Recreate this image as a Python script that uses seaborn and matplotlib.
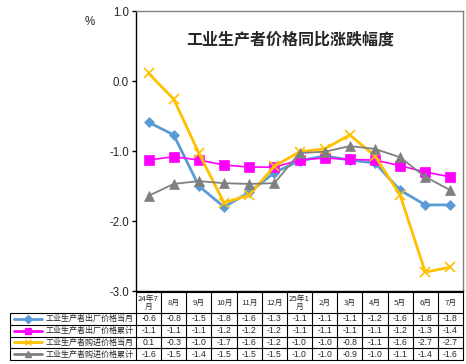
import matplotlib
matplotlib.use("Agg")
import matplotlib.pyplot as plt
import seaborn as sns
import pandas as pd
import numpy as np
from matplotlib.lines import Line2D

# ---------------- data ----------------
months = ["24年7\n月", "8月", "9月", "10月", "11月", "12月", "25年1\n月",
          "2月", "3月", "4月", "5月", "6月", "7月"]
series_names = ["工业生产者出厂价格当月", "工业生产者出厂价格累计",
                "工业生产者购进价格当月", "工业生产者购进价格累计"]
ppi_month = [-0.59, -0.77, -1.50, -1.80, -1.59, -1.31, -1.14, -1.07, -1.13, -1.17, -1.56, -1.77, -1.77]
ppi_cum = [-1.13, -1.08, -1.13, -1.20, -1.23, -1.23, -1.13, -1.10, -1.12, -1.13, -1.21, -1.30, -1.37]
pur_month = [0.11, -0.26, -1.03, -1.74, -1.63, -1.22, -1.01, -0.97, -0.77, -1.07, -1.63, -2.73, -2.66]
pur_cum = [-1.64, -1.47, -1.43, -1.46, -1.47, -1.46, -1.03, -1.01, -0.93, -0.97, -1.09, -1.37, -1.56]
y_ticks = [1.0, 0.0, -1.0, -2.0, -3.0]
title = "工业生产者价格同比涨跌幅度"
unit = "%"

values = [ppi_month, ppi_cum, pur_month, pur_cum]
colors = ["#5B9BD5", "#FF00FF", "#FFC000", "#808080"]
markers = ["D", "s", "x", "^"]
msizes = [5, 7, 7, 7]
lwidths = [2.0, 1.2, 2.0, 1.3]

# ---------------- figure ----------------
sns.set_theme(style="white")
plt.rcParams['font.family'] = ['Liberation Sans', 'Noto Sans CJK SC', 'DejaVu Sans']

W, H = 466, 364
fig = plt.figure(figsize=(W / 100, H / 100), dpi=100)
fig.patch.set_facecolor("white")

L, R, T, B = 136, 463, 11, 291
ax = fig.add_axes([L / W, 1 - B / H, (R - L) / W, (B - T) / H])
ax.set_facecolor("white")

x = np.arange(len(months))
for name, vals, c, m, ms, lw in zip(series_names, values, colors, markers, msizes, lwidths):
    df = pd.DataFrame({"x": x, "y": vals})
    sns.lineplot(data=df, x="x", y="y", ax=ax, color=c, marker=m, markersize=ms,
                 linewidth=lw, markeredgecolor=c, markeredgewidth=1.2 if m == "x" else 0.5,
                 label=None, legend=False)

ax.set_xlim(-0.5, len(months) - 0.5)
ax.set_ylim(-3.0, 1.0)
ax.set_yticks(y_ticks)
ax.set_yticklabels([f"{t:.1f}" for t in y_ticks], fontsize=8.3, family=['Liberation Sans'])
ax.set_xticks([])
ax.set_xlabel("")
ax.set_ylabel("")
ax.tick_params(axis="y", direction="out", length=3, width=1, color="black", pad=2, left=True)
ax.spines["left"].set_color("black")
ax.spines["left"].set_linewidth(1)
ax.spines["bottom"].set_color("black")
ax.spines["bottom"].set_linewidth(1)
ax.spines["top"].set_color("#808080")
ax.spines["right"].set_color("#808080")
ax.spines["top"].set_linewidth(1)
ax.spines["right"].set_linewidth(1)

fig.text(290 / W, 1 - 40 / H, title, ha="center", va="center", fontsize=11.5,
         fontweight="bold", family=['Noto Sans CJK SC'])
fig.text(90 / W, 1 - 22 / H, unit, ha="center", va="center", fontsize=8.3,
         family=['Liberation Sans'])

# ---------------- data table ----------------
def fx(px):
    return px / W

def fy(py):
    return 1 - py / H

def hline(x0, x1, y, lw=0.8, c="black"):
    fig.add_artist(Line2D([fx(x0), fx(x1)], [fy(y), fy(y)], color=c, lw=lw,
                          transform=fig.transFigure))

def vline(x0, y0, y1, lw=0.8, c="black"):
    fig.add_artist(Line2D([fx(x0), fx(x0)], [fy(y0), fy(y1)], color=c, lw=lw,
                          transform=fig.transFigure))

n = len(months)
cw = (R - L) / n
col_edges = [L + i * cw for i in range(n + 1)]
tab_top = 292
head_bot = 313
row_h = 11.75
row_edges = [head_bot + i * row_h for i in range(len(series_names) + 1)]
lab_left = 10

# horizontal lines
hline(L, R, tab_top)
for i, ry in enumerate(row_edges):
    hline(lab_left if True else L, R, ry)
# vertical lines
vline(lab_left, head_bot, row_edges[-1])
for cx in col_edges:
    vline(cx, tab_top, row_edges[-1])

# header labels
for i, mth in enumerate(months):
    cx = (col_edges[i] + col_edges[i + 1]) / 2
    fig.text(fx(cx), fy((tab_top + head_bot) / 2 + 0.5), mth, ha="center", va="center",
             fontsize=5.6, family=['Noto Sans CJK SC'], linespacing=1.15)

# rows
for r, (name, vals, c, m) in enumerate(zip(series_names, values, colors, markers)):
    cy = (row_edges[r] + row_edges[r + 1]) / 2
    fig.add_artist(Line2D([fx(14), fx(42)], [fy(cy), fy(cy)], color=c, lw=2,
                          transform=fig.transFigure))
    fig.add_artist(Line2D([fx(28)], [fy(cy)], color=c, marker=m, markersize=4,
                          markeredgecolor=c, transform=fig.transFigure))
    fig.text(fx(46), fy(cy), name, ha="left", va="center", fontsize=5.8,
             family=['Noto Sans CJK SC'])
    for i, v in enumerate(vals):
        cx = (col_edges[i] + col_edges[i + 1]) / 2
        fig.text(fx(cx), fy(cy), f"{v:.1f}", ha="center", va="center", fontsize=6.2,
                 family=['Liberation Sans'])

fig.savefig("out.png", dpi=100, facecolor="white")
